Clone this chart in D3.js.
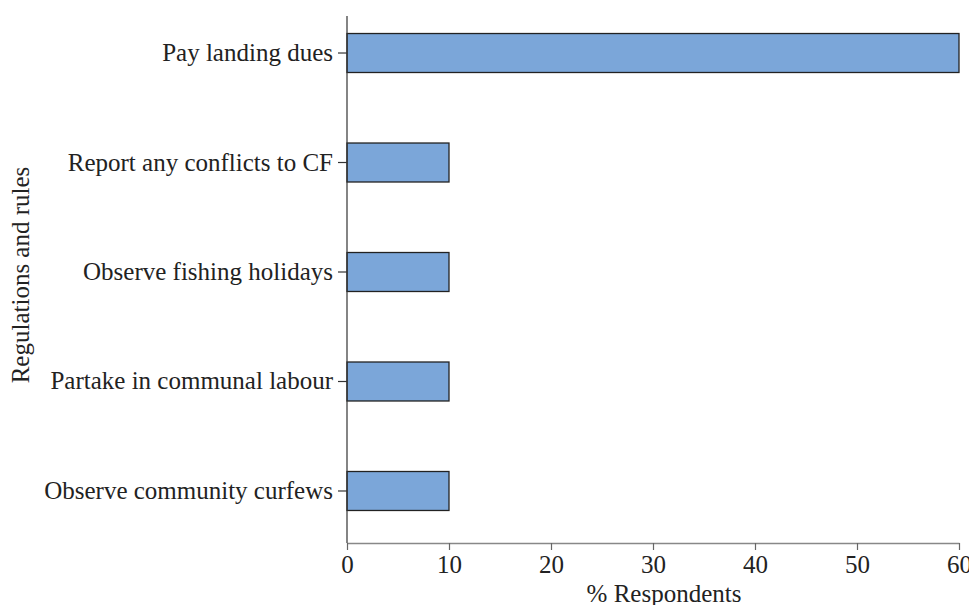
<!DOCTYPE html>
<html><head><meta charset="utf-8">
<script src="https://cdn.jsdelivr.net/npm/d3@7"></script>
<style>body{margin:0;background:#fff}svg{display:block}text{font-family:"Liberation Serif","Times New Roman",serif;fill:#222}</style>
</head><body><svg id="c" width="969" height="605"></svg>
<script>
const categories = ["Pay landing dues","Report any conflicts to CF","Observe fishing holidays","Partake in communal labour","Observe community curfews"];
const values = [60,10,10,10,10];
const xTicks = [0,10,20,30,40,50,60];

const svg = d3.select("#c");
const x = d3.scaleLinear().domain([0,60]).range([347,959]);
const y = d3.scaleBand().domain(categories).range([16,528]).paddingInner(0.644).paddingOuter(0.16);

svg.selectAll("rect.bar").data(categories).enter().append("rect")
  .attr("class","bar")
  .attr("x", x(0))
  .attr("y", d=>y(d))
  .attr("width", (d,i)=>x(values[i])-x(0))
  .attr("height", y.bandwidth())
  .attr("fill","#7ba6d9").attr("stroke","#222").attr("stroke-width",1.3);

// x axis
const xa = svg.append("g").attr("transform","translate(0,543)")
  .call(d3.axisBottom(x).tickValues(xTicks).tickSize(7).tickSizeOuter(0).tickPadding(6));
xa.select(".domain").attr("stroke","#888").attr("stroke-width",1.5);
xa.selectAll(".tick line").attr("stroke","#666").attr("stroke-width",1.2);
xa.selectAll(".tick text").attr("font-size",25).attr("dy",null).attr("y",30).style("font-family","Liberation Serif").attr("fill","#222");

// y axis
const ya = svg.append("g").attr("transform","translate(347,0)")
  .call(d3.axisLeft(y).tickSize(9).tickPadding(5));
ya.select(".domain").remove();
ya.selectAll(".tick line").attr("stroke","#333").attr("stroke-width",1.2);
ya.selectAll(".tick text").attr("font-size",25).style("font-family","Liberation Serif").attr("fill","#222");
svg.append("line").attr("x1",347).attr("x2",347).attr("y1",16).attr("y2",543).attr("stroke","#333").attr("stroke-width",1.2);

svg.append("text").attr("x",664).attr("y",602).attr("text-anchor","middle").attr("font-size",25).text("% Respondents");
svg.append("text").attr("transform","translate(29,275) rotate(-90)").attr("text-anchor","middle").attr("font-size",25).text("Regulations and rules");
</script></body></html>
